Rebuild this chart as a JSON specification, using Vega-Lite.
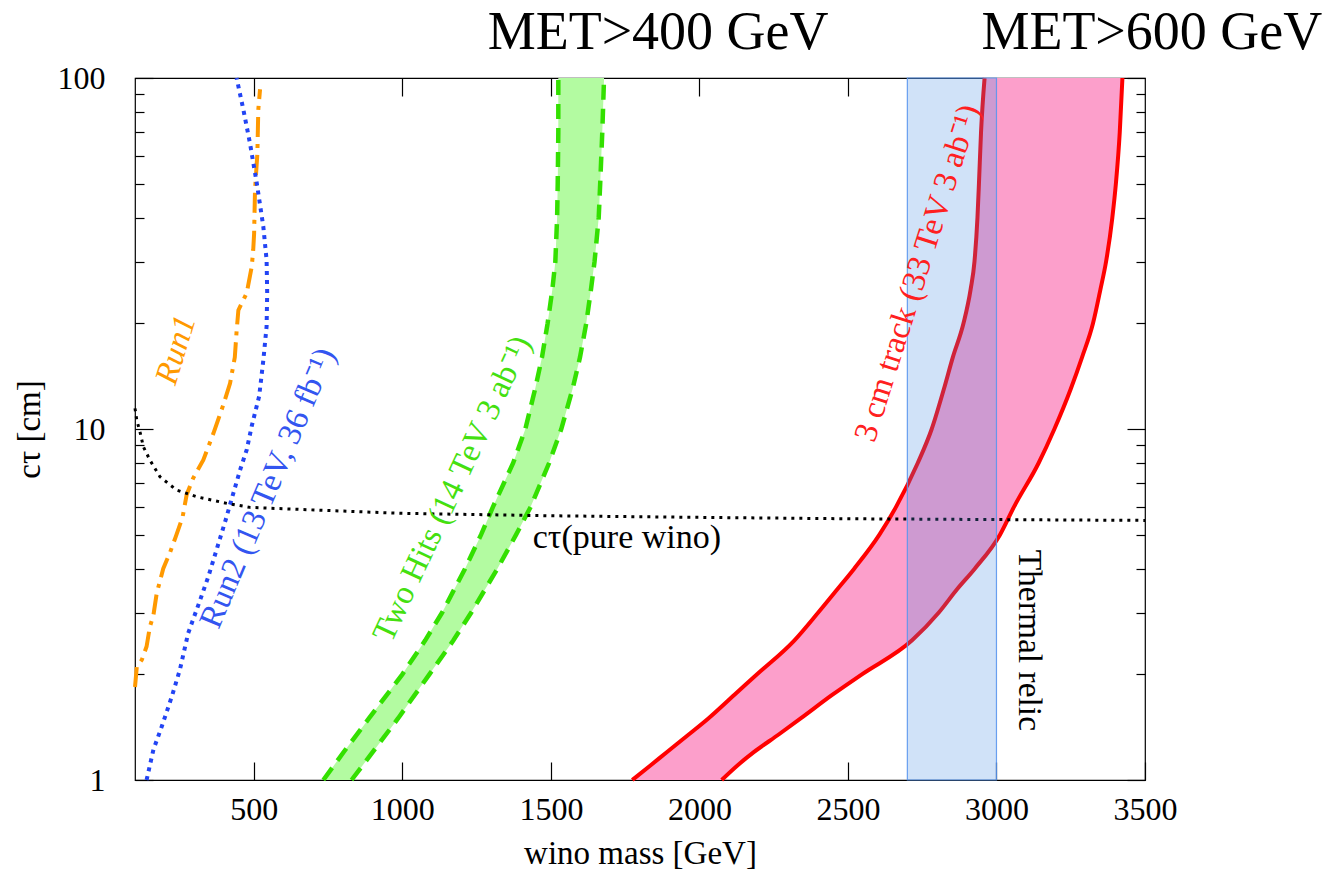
{
  "$schema": "https://vega.github.io/schema/vega-lite/v6.json",
  "width": 1010,
  "height": 702,
  "autosize": {"type": "none"},
  "padding": {"left": 135, "top": 78, "right": 188, "bottom": 92},
  "background": "white",
  "config": {
    "view": {"stroke": "black", "strokeWidth": 1.2},
    "font": "Liberation Serif",
    "axis": {
      "labelFont": "Liberation Serif",
      "titleFont": "Liberation Serif",
      "labelFontSize": 32,
      "titleFontSize": 33,
      "titleFontWeight": "normal",
      "labelColor": "black",
      "titleColor": "black",
      "tickColor": "black",
      "tickWidth": 1.2,
      "domain": false,
      "grid": false,
      "labelFlush": false,
      "labelOverlap": false
    }
  },
  "datasets": {
    "curves": [
      {"s": "run1", "x": 100, "y": 1.84}, {"s": "run1", "x": 106, "y": 2.1}, {"s": "run1", "x": 123, "y": 2.2},
      {"s": "run1", "x": 139, "y": 2.4}, {"s": "run1", "x": 150, "y": 2.73}, {"s": "run1", "x": 162, "y": 2.95},
      {"s": "run1", "x": 173, "y": 3.4}, {"s": "run1", "x": 195, "y": 4.0}, {"s": "run1", "x": 218, "y": 4.45},
      {"s": "run1", "x": 237, "y": 4.93}, {"s": "run1", "x": 260, "y": 5.6}, {"s": "run1", "x": 274, "y": 6.5},
      {"s": "run1", "x": 296, "y": 7.25}, {"s": "run1", "x": 330, "y": 8.16}, {"s": "run1", "x": 364, "y": 9.72},
      {"s": "run1", "x": 397, "y": 11.7}, {"s": "run1", "x": 420, "y": 13.5}, {"s": "run1", "x": 436, "y": 16.0},
      {"s": "run1", "x": 442, "y": 19.0}, {"s": "run1", "x": 448, "y": 21.8}, {"s": "run1", "x": 476, "y": 24.4},
      {"s": "run1", "x": 493, "y": 29.0}, {"s": "run1", "x": 498, "y": 32.4}, {"s": "run1", "x": 501, "y": 36.1},
      {"s": "run1", "x": 504, "y": 48.0}, {"s": "run1", "x": 512, "y": 61.0}, {"s": "run1", "x": 515, "y": 81.1},
      {"s": "run1", "x": 521, "y": 92.9},
      {"s": "run2", "x": 139, "y": 1.0}, {"s": "run2", "x": 162, "y": 1.22}, {"s": "run2", "x": 190, "y": 1.42},
      {"s": "run2", "x": 224, "y": 1.73}, {"s": "run2", "x": 251, "y": 2.06}, {"s": "run2", "x": 279, "y": 2.62},
      {"s": "run2", "x": 316, "y": 3.2}, {"s": "run2", "x": 347, "y": 3.8}, {"s": "run2", "x": 377, "y": 4.6},
      {"s": "run2", "x": 405, "y": 5.5}, {"s": "run2", "x": 425, "y": 6.3}, {"s": "run2", "x": 455, "y": 7.7},
      {"s": "run2", "x": 476, "y": 8.72}, {"s": "run2", "x": 493, "y": 10.2}, {"s": "run2", "x": 518, "y": 12.4},
      {"s": "run2", "x": 532, "y": 15.7}, {"s": "run2", "x": 543, "y": 19.6}, {"s": "run2", "x": 545, "y": 24.4},
      {"s": "run2", "x": 543, "y": 30.3}, {"s": "run2", "x": 532, "y": 37.7}, {"s": "run2", "x": 510, "y": 50.1},
      {"s": "run2", "x": 487, "y": 65.2}, {"s": "run2", "x": 465, "y": 81.1}, {"s": "run2", "x": 442, "y": 100},
      {"s": "wino", "x": 100, "y": 11.45}, {"s": "wino", "x": 106, "y": 10.6}, {"s": "wino", "x": 118, "y": 9.72},
      {"s": "wino", "x": 128, "y": 8.91}, {"s": "wino", "x": 150, "y": 8.16}, {"s": "wino", "x": 184, "y": 7.31},
      {"s": "wino", "x": 240, "y": 6.7}, {"s": "wino", "x": 308, "y": 6.41}, {"s": "wino", "x": 409, "y": 6.14},
      {"s": "wino", "x": 487, "y": 5.98}, {"s": "wino", "x": 655, "y": 5.9}, {"s": "wino", "x": 1000, "y": 5.75},
      {"s": "wino", "x": 1500, "y": 5.66}, {"s": "wino", "x": 2000, "y": 5.6}, {"s": "wino", "x": 2500, "y": 5.55},
      {"s": "wino", "x": 3000, "y": 5.52}, {"s": "wino", "x": 3500, "y": 5.49}
    ],
    "bands": [
      {"band": "green", "y": 1, "xl": 734, "xr": 829},
      {"band": "green", "y": 1.2, "xl": 802, "xr": 900},
      {"band": "green", "y": 1.5, "xl": 888, "xr": 986},
      {"band": "green", "y": 2, "xl": 1000, "xr": 1091},
      {"band": "green", "y": 2.5, "xl": 1077, "xr": 1172},
      {"band": "green", "y": 3, "xl": 1134, "xr": 1232},
      {"band": "green", "y": 4, "xl": 1211, "xr": 1320},
      {"band": "green", "y": 5, "xl": 1265, "xr": 1383},
      {"band": "green", "y": 6, "xl": 1305, "xr": 1432},
      {"band": "green", "y": 8, "xl": 1373, "xr": 1494},
      {"band": "green", "y": 10, "xl": 1414, "xr": 1535},
      {"band": "green", "y": 13, "xl": 1447, "xr": 1573},
      {"band": "green", "y": 16, "xl": 1470, "xr": 1598},
      {"band": "green", "y": 20, "xl": 1489, "xr": 1619},
      {"band": "green", "y": 25, "xl": 1505, "xr": 1635},
      {"band": "green", "y": 30, "xl": 1515, "xr": 1647},
      {"band": "green", "y": 40, "xl": 1521, "xr": 1661},
      {"band": "green", "y": 50, "xl": 1523, "xr": 1666},
      {"band": "green", "y": 70, "xl": 1525, "xr": 1673},
      {"band": "green", "y": 100, "xl": 1525, "xr": 1679},
      {"band": "red", "y": 1, "xl": 1774, "xr": 2075},
      {"band": "red", "y": 1.1, "xl": 1835, "xr": 2128},
      {"band": "red", "y": 1.2, "xl": 1890, "xr": 2183},
      {"band": "red", "y": 1.35, "xl": 1965, "xr": 2268},
      {"band": "red", "y": 1.5, "xl": 2031, "xr": 2342},
      {"band": "red", "y": 1.75, "xl": 2118, "xr": 2448},
      {"band": "red", "y": 2, "xl": 2194, "xr": 2547},
      {"band": "red", "y": 2.5, "xl": 2320, "xr": 2716},
      {"band": "red", "y": 3, "xl": 2400, "xr": 2806},
      {"band": "red", "y": 3.5, "xl": 2465, "xr": 2868},
      {"band": "red", "y": 4, "xl": 2521, "xr": 2927},
      {"band": "red", "y": 5, "xl": 2606, "xr": 3012},
      {"band": "red", "y": 6, "xl": 2662, "xr": 3059},
      {"band": "red", "y": 8, "xl": 2735, "xr": 3142},
      {"band": "red", "y": 10, "xl": 2782, "xr": 3195},
      {"band": "red", "y": 13, "xl": 2823, "xr": 3250},
      {"band": "red", "y": 16, "xl": 2853, "xr": 3288},
      {"band": "red", "y": 20, "xl": 2889, "xr": 3325},
      {"band": "red", "y": 25, "xl": 2913, "xr": 3350},
      {"band": "red", "y": 30, "xl": 2926, "xr": 3369},
      {"band": "red", "y": 40, "xl": 2936, "xr": 3390},
      {"band": "red", "y": 50, "xl": 2941, "xr": 3402},
      {"band": "red", "y": 70, "xl": 2948, "xr": 3415},
      {"band": "red", "y": 100, "xl": 2960, "xr": 3424}
    ],
    "relic": [{"x": 2700, "x2": 3000}],
    "labels": [
      {"k": "run1", "text": "Run1", "x": 238, "y": 16.8},
      {"k": "run2", "text": "Run2 (13 TeV, 36 fb⁻¹)", "x": 548, "y": 6.79},
      {"k": "two", "text": "Two Hits (14 TeV 3 ab⁻¹)", "x": 1169, "y": 6.75},
      {"k": "track", "text": "3 cm track (33 TeV 3 ab⁻¹)", "x": 2734, "y": 27.8},
      {"k": "wino", "text": "cτ(pure wino)", "x": 1756, "y": 4.89},
      {"k": "relic", "text": "Thermal relic", "x": 3109, "y": 2.5},
      {"k": "met", "text": "MET>400 GeV", "x": 1861, "y": 100},
      {"k": "met", "text": "MET>600 GeV", "x": 3523, "y": 100}
    ]
  },
  "layer": [
    {
      "data": {"name": "bands"},
      "transform": [{"filter": "datum.band == 'green'"}],
      "mark": {"type": "area", "orient": "horizontal", "color": "#b3fba1", "opacity": 1},
      "encoding": {
        "y": {"field": "y", "type": "quantitative", "scale": {"type": "log", "domain": [1, 100], "nice": false}, "axis": null},
        "x": {"field": "xl", "type": "quantitative", "scale": {"domain": [100, 3500], "nice": false, "zero": false}, "axis": null},
        "x2": {"field": "xr"}
      }
    },
    {
      "data": {"name": "bands"},
      "transform": [{"filter": "datum.band == 'red'"}],
      "mark": {"type": "area", "orient": "horizontal", "color": "#fc9fcb", "opacity": 1, "interpolate": "monotone"},
      "encoding": {
        "y": {"field": "y", "type": "quantitative", "scale": {"type": "log", "domain": [1, 100], "nice": false}, "axis": null},
        "x": {"field": "xl", "type": "quantitative", "scale": {"domain": [100, 3500], "nice": false, "zero": false}, "axis": null},
        "x2": {"field": "xr"}
      }
    },
    {
      "data": {"name": "bands"},
      "transform": [{"filter": "datum.band == 'green'"}],
      "mark": {"type": "line", "color": "#33e000", "strokeWidth": 4.5, "strokeDash": [15, 9]},
      "encoding": {
        "y": {"field": "y", "type": "quantitative", "scale": {"type": "log", "domain": [1, 100], "nice": false}, "axis": null},
        "x": {"field": "xl", "type": "quantitative", "scale": {"domain": [100, 3500], "nice": false, "zero": false}, "axis": null},
        "order": {"field": "y", "type": "quantitative"}
      }
    },
    {
      "data": {"name": "bands"},
      "transform": [{"filter": "datum.band == 'green'"}],
      "mark": {"type": "line", "color": "#33e000", "strokeWidth": 4.5, "strokeDash": [15, 9]},
      "encoding": {
        "y": {"field": "y", "type": "quantitative", "scale": {"type": "log", "domain": [1, 100], "nice": false}, "axis": null},
        "x": {"field": "xr", "type": "quantitative", "scale": {"domain": [100, 3500], "nice": false, "zero": false}, "axis": null},
        "order": {"field": "y", "type": "quantitative"}
      }
    },
    {
      "data": {"name": "bands"},
      "transform": [{"filter": "datum.band == 'red'"}],
      "mark": {"type": "line", "color": "#ff0000", "strokeWidth": 4, "interpolate": "monotone"},
      "encoding": {
        "y": {"field": "y", "type": "quantitative", "scale": {"type": "log", "domain": [1, 100], "nice": false}, "axis": null},
        "x": {"field": "xl", "type": "quantitative", "scale": {"domain": [100, 3500], "nice": false, "zero": false}, "axis": null},
        "order": {"field": "y", "type": "quantitative"}
      }
    },
    {
      "data": {"name": "bands"},
      "transform": [{"filter": "datum.band == 'red'"}],
      "mark": {"type": "line", "color": "#ff0000", "strokeWidth": 4, "interpolate": "monotone"},
      "encoding": {
        "y": {"field": "y", "type": "quantitative", "scale": {"type": "log", "domain": [1, 100], "nice": false}, "axis": null},
        "x": {"field": "xr", "type": "quantitative", "scale": {"domain": [100, 3500], "nice": false, "zero": false}, "axis": null},
        "order": {"field": "y", "type": "quantitative"}
      }
    },
    {
      "data": {"name": "curves"},
      "transform": [{"filter": "datum.s == 'run1'"}],
      "mark": {"type": "line", "color": "#ff9900", "strokeWidth": 4, "strokeDash": [20, 7, 4, 7]},
      "encoding": {
        "y": {"field": "y", "type": "quantitative", "scale": {"type": "log", "domain": [1, 100], "nice": false},
          "axis": {"orient": "right", "title": null, "labels": false,
            "values": [1, 2, 3, 4, 5, 6, 7, 8, 9, 10, 20, 30, 40, 50, 60, 70, 80, 90, 100],
            "tickSize": {"condition": {"test": "datum.value == 1 || datum.value == 10 || datum.value == 100", "value": -18}, "value": -9}}},
        "x": {"field": "x", "type": "quantitative", "scale": {"domain": [100, 3500], "nice": false, "zero": false},
          "axis": {"orient": "top", "title": null, "labels": false, "values": [500, 1000, 1500, 2000, 2500, 3000], "tickSize": -18}},
        "order": {"field": "y", "type": "quantitative"}
      }
    },
    {
      "data": {"name": "curves"},
      "transform": [{"filter": "datum.s == 'run2'"}],
      "mark": {"type": "line", "color": "#2244f4", "strokeWidth": 4, "strokeDash": [4, 5]},
      "encoding": {
        "y": {"field": "y", "type": "quantitative", "scale": {"type": "log", "domain": [1, 100], "nice": false}, "axis": null},
        "x": {"field": "x", "type": "quantitative", "scale": {"domain": [100, 3500], "nice": false, "zero": false}, "axis": null},
        "order": {"field": "y", "type": "quantitative"}
      }
    },
    {
      "data": {"name": "curves"},
      "transform": [{"filter": "datum.s == 'wino'"}],
      "mark": {"type": "line", "color": "black", "strokeWidth": 3, "strokeDash": [3, 5]},
      "encoding": {
        "y": {"field": "y", "type": "quantitative", "scale": {"type": "log", "domain": [1, 100], "nice": false},
          "axis": {"orient": "left", "title": "cτ [cm]", "format": "d",
            "values": [1, 2, 3, 4, 5, 6, 7, 8, 9, 10, 20, 30, 40, 50, 60, 70, 80, 90, 100],
            "labelExpr": "(datum.value == 1 || datum.value == 10 || datum.value == 100) ? datum.label : ''",
            "tickSize": {"condition": {"test": "datum.value == 1 || datum.value == 10 || datum.value == 100", "value": -18}, "value": -9},
            "labelPadding": 48, "titlePadding": 11}},
        "x": {"field": "x", "type": "quantitative", "scale": {"domain": [100, 3500], "nice": false, "zero": false},
          "axis": {"orient": "bottom", "title": "wino mass [GeV]", "format": "d",
            "values": [500, 1000, 1500, 2000, 2500, 3000, 3500], "tickSize": -18, "labelPadding": 32, "titlePadding": 12}},
        "order": {"field": "x", "type": "quantitative"}
      }
    },
    {
      "data": {"name": "relic"},
      "mark": {"type": "rect", "color": "#448ce4", "fillOpacity": 0.25, "stroke": "#5a96ee", "strokeWidth": 1.2, "strokeOpacity": 0.9},
      "encoding": {
        "x": {"field": "x", "type": "quantitative", "scale": {"domain": [100, 3500], "nice": false, "zero": false}, "axis": null},
        "x2": {"field": "x2"}
      }
    },
    {
      "data": {"name": "labels"},
      "transform": [{"filter": "datum.k == 'run1'"}],
      "mark": {"type": "text", "font": "Liberation Serif", "fontSize": 33, "fontStyle": "italic", "color": "#ff9900", "angle": -73, "align": "center", "baseline": "middle"},
      "encoding": {
        "text": {"field": "text"},
        "y": {"field": "y", "type": "quantitative", "scale": {"type": "log", "domain": [1, 100], "nice": false}, "axis": null},
        "x": {"field": "x", "type": "quantitative", "scale": {"domain": [100, 3500], "nice": false, "zero": false}, "axis": null}
      }
    },
    {
      "data": {"name": "labels"},
      "transform": [{"filter": "datum.k == 'run2'"}],
      "mark": {"type": "text", "font": "Liberation Serif", "fontSize": 33, "color": "#3355f0", "angle": -67, "align": "center", "baseline": "middle"},
      "encoding": {
        "text": {"field": "text"},
        "y": {"field": "y", "type": "quantitative", "scale": {"type": "log", "domain": [1, 100], "nice": false}, "axis": null},
        "x": {"field": "x", "type": "quantitative", "scale": {"domain": [100, 3500], "nice": false, "zero": false}, "axis": null}
      }
    },
    {
      "data": {"name": "labels"},
      "transform": [{"filter": "datum.k == 'two'"}],
      "mark": {"type": "text", "font": "Liberation Serif", "fontSize": 33, "color": "#44e010", "angle": -65, "align": "center", "baseline": "middle"},
      "encoding": {
        "text": {"field": "text"},
        "y": {"field": "y", "type": "quantitative", "scale": {"type": "log", "domain": [1, 100], "nice": false}, "axis": null},
        "x": {"field": "x", "type": "quantitative", "scale": {"domain": [100, 3500], "nice": false, "zero": false}, "axis": null}
      }
    },
    {
      "data": {"name": "labels"},
      "transform": [{"filter": "datum.k == 'track'"}],
      "mark": {"type": "text", "font": "Liberation Serif", "fontSize": 33, "color": "#ff2020", "angle": -72.5, "align": "center", "baseline": "middle"},
      "encoding": {
        "text": {"field": "text"},
        "y": {"field": "y", "type": "quantitative", "scale": {"type": "log", "domain": [1, 100], "nice": false}, "axis": null},
        "x": {"field": "x", "type": "quantitative", "scale": {"domain": [100, 3500], "nice": false, "zero": false}, "axis": null}
      }
    },
    {
      "data": {"name": "labels"},
      "transform": [{"filter": "datum.k == 'wino'"}],
      "mark": {"type": "text", "font": "Liberation Serif", "fontSize": 34, "color": "black", "align": "center", "baseline": "middle"},
      "encoding": {
        "text": {"field": "text"},
        "y": {"field": "y", "type": "quantitative", "scale": {"type": "log", "domain": [1, 100], "nice": false}, "axis": null},
        "x": {"field": "x", "type": "quantitative", "scale": {"domain": [100, 3500], "nice": false, "zero": false}, "axis": null}
      }
    },
    {
      "data": {"name": "labels"},
      "transform": [{"filter": "datum.k == 'relic'"}],
      "mark": {"type": "text", "font": "Liberation Serif", "fontSize": 33.5, "color": "black", "angle": 90, "align": "center", "baseline": "middle"},
      "encoding": {
        "text": {"field": "text"},
        "y": {"field": "y", "type": "quantitative", "scale": {"type": "log", "domain": [1, 100], "nice": false}, "axis": null},
        "x": {"field": "x", "type": "quantitative", "scale": {"domain": [100, 3500], "nice": false, "zero": false}, "axis": null}
      }
    },
    {
      "data": {"name": "labels"},
      "transform": [{"filter": "datum.k == 'met'"}],
      "mark": {"type": "text", "font": "Liberation Serif", "fontSize": 54, "color": "black", "align": "center", "baseline": "middle", "dy": -45},
      "encoding": {
        "text": {"field": "text"},
        "y": {"field": "y", "type": "quantitative", "scale": {"type": "log", "domain": [1, 100], "nice": false}, "axis": null},
        "x": {"field": "x", "type": "quantitative", "scale": {"domain": [100, 3500], "nice": false, "zero": false}, "axis": null}
      }
    }
  ],
  "resolve": {"axis": {"x": "independent", "y": "independent"}}
}
